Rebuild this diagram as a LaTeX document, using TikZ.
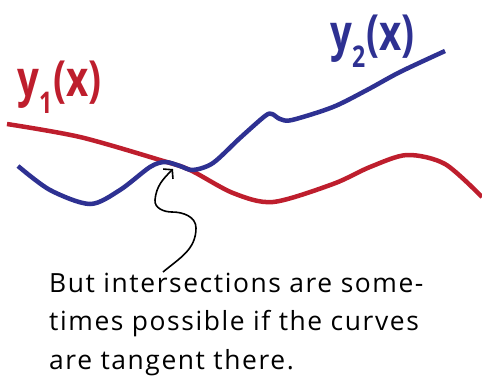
\documentclass[tikz,border=0pt]{standalone}
\usepackage{fontspec}
\setmainfont{Open Sans}
\newfontfamily\notefont[LetterSpace=6]{Open Sans}
\usetikzlibrary{arrows.meta}
\definecolor{curvered}{RGB}{190,30,45}
\definecolor{curveblue}{RGB}{46,49,146}
\newcommand{\funname}[1]{\scalebox{0.77}[1]{y\raisebox{-17bp}{\fontsize{30}{30}\selectfont #1}\kern0.03em(x)}}

\begin{document}
\begin{tikzpicture}[x=1bp,y=-1bp,
		curve/.style={line width=4.5bp},
		funlabel/.style={font=\fontsize{50}{50}\selectfont\bfseries, inner sep=0pt, anchor=base west},
		pointer/.style={line width=1.6bp, -{Straight Barb[length=6bp,width=14bp]}},
		note/.style={font=\notefont\fontsize{26.5}{38.5}\selectfont, align=left, inner sep=0pt, anchor=north west}]
		\useasboundingbox (0,0) rectangle (482,376);
		
		% The two curves
		\draw[curve,curvered] plot[smooth] coordinates {(7,124) (80,137) (160,160) (190,170) (233,193) (273,202) (333,184) (370,167) (407,155) (445,164) (482,197)};
		\draw[curve,curveblue] plot[smooth] coordinates {(18,166) (50,190) (90,204) (120,190) (150,167) (165,162) (180,166) (193,170) (213,163) (240,138) (265,116) (272,114) (280,119) (292,120) (333,107) (367,90) (400,72) (445,51)};
		
		% Curve labels
		\node[funlabel,text=curvered] (yone) at (17,96) {\funname{1}};
		\node[funlabel,text=curveblue] (ytwo) at (330,50) {\funname{2}};
		
		% Remark with arrow to the tangent point
		\node[note] (remark) at (49,273) {But intersections are some-\\times possible if the curves\\are tangent there.};
		\coordinate (tail) at (163,272);
		\coordinate (tangent) at (173,169);
		\draw[pointer] (tail) to[out=40,in=-90] (196,228) to[out=90,in=0] (172,212) to[out=180,in=-95] (155,200) to[out=85,in=-135] (tangent);
	\end{tikzpicture}
\end{document}
